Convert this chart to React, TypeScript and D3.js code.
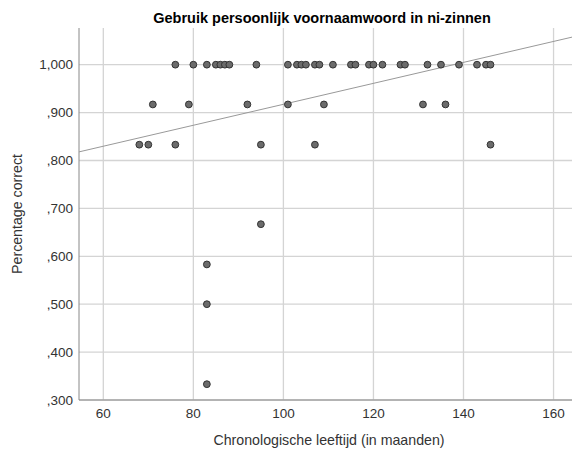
import React from "react";
import * as d3 from "d3";

// ---- Data ----
const ageMonths: number[] = [
  76, 80, 83, 85, 86, 87, 88, 94, 101, 103, 104, 105, 107, 108, 111, 115, 116, 119, 120, 122, 126, 127, 132, 135, 139, 143, 145, 146,
  71, 79, 92, 101, 109, 131, 136,
  68, 70, 76, 95, 107, 146,
  95, 83, 83, 83,
];
const pctCorrect: number[] = [
  1, 1, 1, 1, 1, 1, 1, 1, 1, 1, 1, 1, 1, 1, 1, 1, 1, 1, 1, 1, 1, 1, 1, 1, 1, 1, 1, 1,
  0.917, 0.917, 0.917, 0.917, 0.917, 0.917, 0.917,
  0.833, 0.833, 0.833, 0.833, 0.833, 0.833,
  0.667, 0.583, 0.5, 0.333,
];
const xTicks: number[] = [60, 80, 100, 120, 140, 160];
const yTicks: number[] = [0.3, 0.4, 0.5, 0.6, 0.7, 0.8, 0.9, 1.0];
const yTickLabels: string[] = [",300", ",400", ",500", ",600", ",700", ",800", ",900", "1,000"];
const fitIntercept = 0.6985;
const fitSlope = 0.002188;
const xDomain: [number, number] = [54.6, 164.1];
const yDomain: [number, number] = [0.3, 1.0766];

const title = "Gebruik persoonlijk voornaamwoord in ni-zinnen";
const xLabel = "Chronologische leeftijd (in maanden)";
const yLabel = "Percentage correct";

const W = 572;
const H = 450;
const M = { left: 79, right: 0, top: 28, bottom: 50 };

export default function App() {
  const x = d3.scaleLinear().domain(xDomain).range([M.left, W - M.right]);
  const y = d3.scaleLinear().domain(yDomain).range([H - M.bottom, M.top]);
  const points = ageMonths.map((a, i) => ({ a, p: pctCorrect[i] }));
  const font = "'Liberation Sans', Arial, sans-serif";
  const fitLine = d3
    .line<number>()
    .x((d) => x(d))
    .y((d) => y(fitIntercept + fitSlope * d));

  return (
    <svg
      width={W}
      height={H}
      style={{ position: "absolute", left: 0, top: 0, background: "#fff" }}
      fontFamily={font}
    >
      <rect x={0} y={0} width={W} height={H} fill="#fff" />
      {/* grid */}
      {yTicks.map((t) => (
        <line key={"gy" + t} x1={M.left} x2={W - M.right} y1={y(t)} y2={y(t)} stroke="#d4d4d4" strokeWidth={1.3} />
      ))}
      {xTicks.map((t) => (
        <line key={"gx" + t} x1={x(t)} x2={x(t)} y1={M.top} y2={H - M.bottom} stroke="#d4d4d4" strokeWidth={1.3} />
      ))}
      {/* axes */}
      <line x1={M.left} x2={M.left} y1={M.top} y2={H - M.bottom} stroke="#888" strokeWidth={1} />
      <line x1={M.left} x2={W - M.right} y1={H - M.bottom} y2={H - M.bottom} stroke="#888" strokeWidth={1} />
      {/* fit line */}
      <path d={fitLine(xDomain) || ""} fill="none" stroke="#999" strokeWidth={1} />
      {/* points */}
      {points.map((d, i) => (
        <circle key={i} cx={x(d.a)} cy={y(d.p)} r={3.4} fill="#6b6b6b" stroke="#333" strokeWidth={1} />
      ))}
      {/* tick labels */}
      {yTicks.map((t, i) => (
        <text key={"ty" + t} x={73} y={y(t)} dy="0.35em" textAnchor="end" fontSize={13.5} fill="#333">
          {yTickLabels[i]}
        </text>
      ))}
      {xTicks.map((t) => (
        <text key={"tx" + t} x={x(t)} y={418} textAnchor="middle" fontSize={13.5} fill="#333">
          {t}
        </text>
      ))}
      {/* labels */}
      <text x={322} y={23} textAnchor="middle" fontSize={14.5} fontWeight="bold" fill="#000">
        {title}
      </text>
      <text x={329} y={445} textAnchor="middle" fontSize={14.2} fill="#333">
        {xLabel}
      </text>
      <text transform={`translate(22,214) rotate(-90)`} textAnchor="middle" fontSize={14.2} fill="#333">
        {yLabel}
      </text>
    </svg>
  );
}
